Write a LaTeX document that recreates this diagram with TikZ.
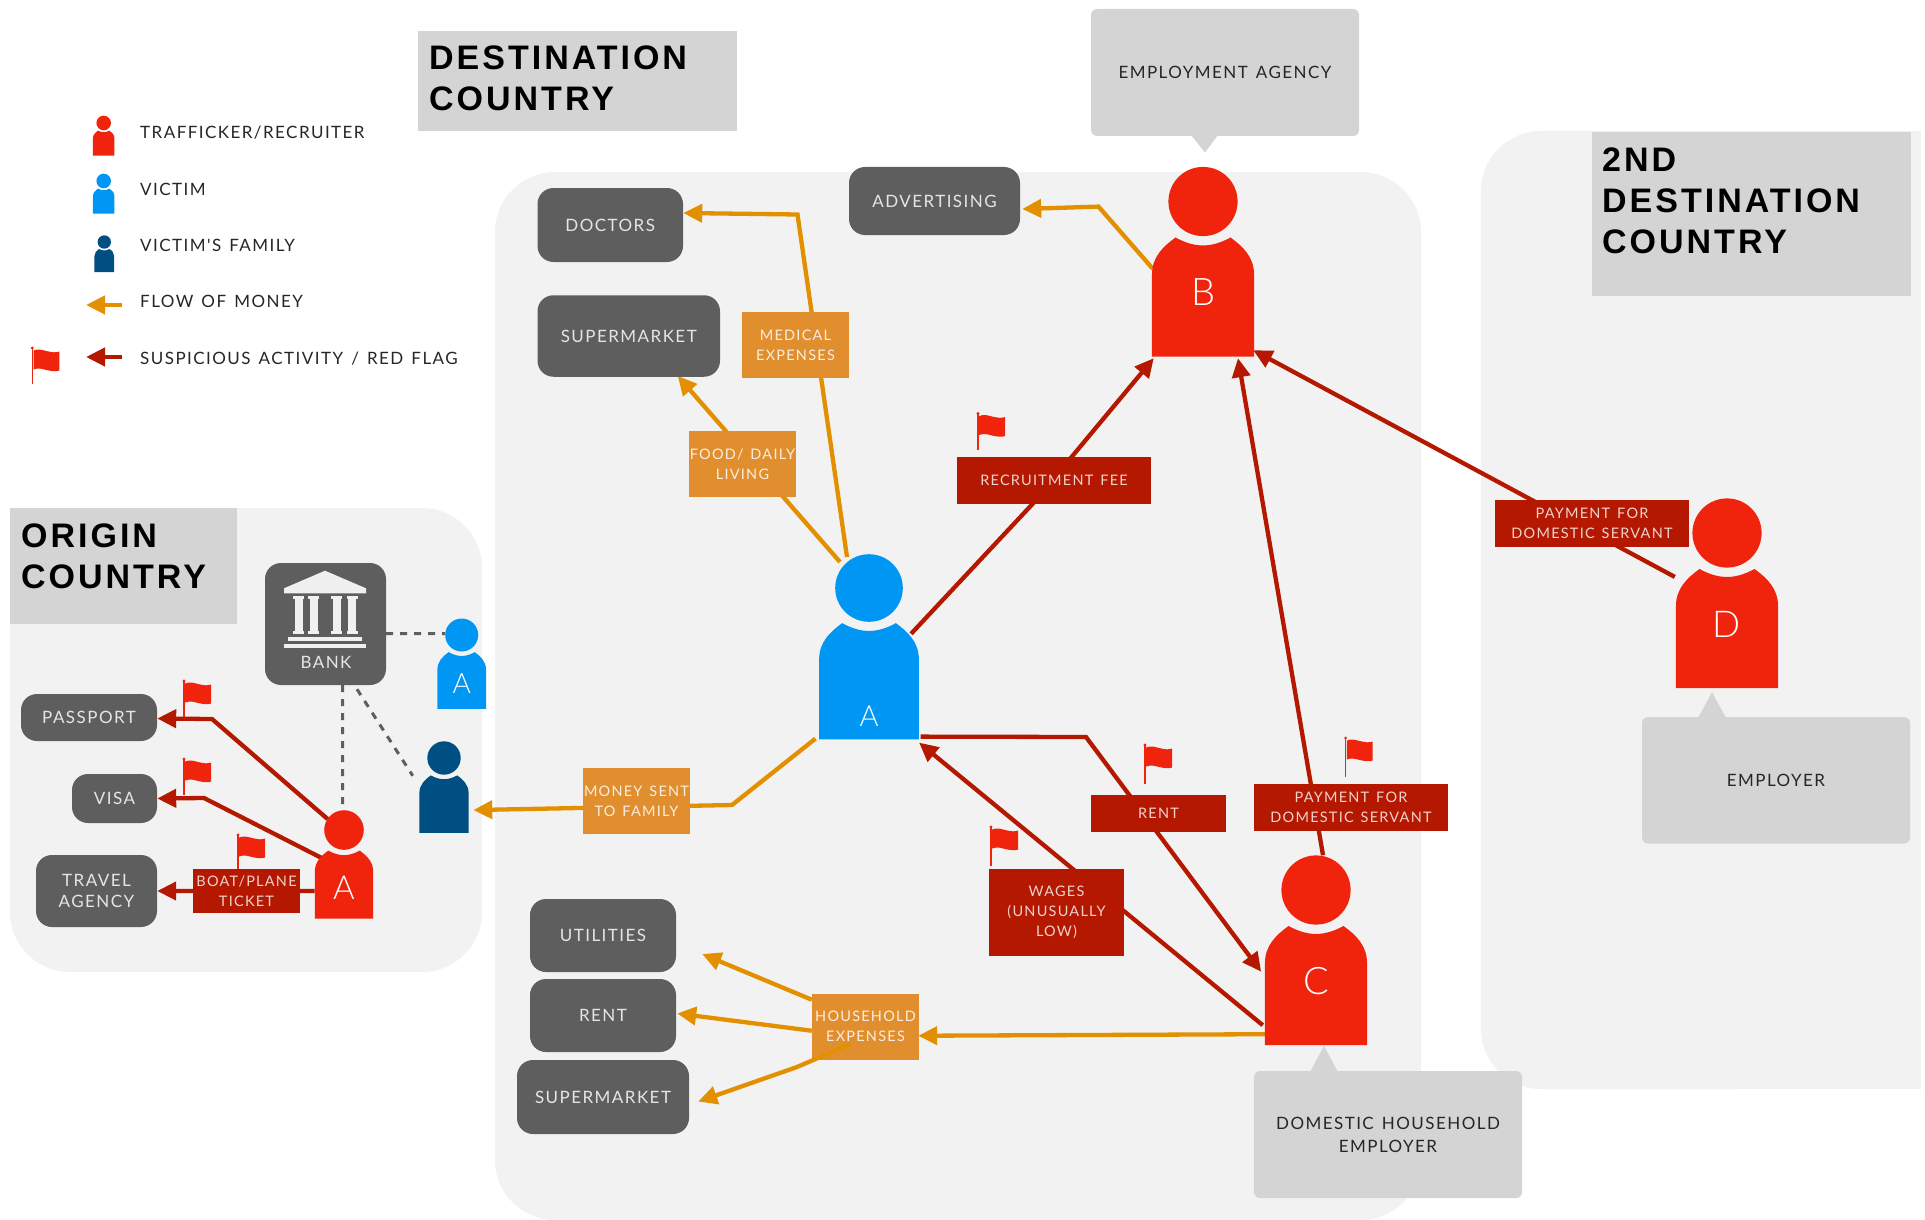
\documentclass[tikz,border=0pt]{standalone}
\usepackage{fontspec}
\usetikzlibrary{arrows.meta}
\setmainfont{Lato Light}
\newfontfamily\boxfont[LetterSpace=8.5,WordSpace=1.4]{Lato}
\newfontfamily\titlefont[LetterSpace=8.8]{Liberation Sans}
\definecolor{panelgrey}{HTML}{F2F2F2}
\definecolor{titlegrey}{HTML}{D4D4D4}
\definecolor{boxgrey}{HTML}{5E5E5E}
\definecolor{traffred}{HTML}{F0230C}
\definecolor{victimblue}{HTML}{0096F3}
\definecolor{familynavy}{HTML}{004F82}
\definecolor{moneyorange}{HTML}{E29000}
\definecolor{labelorange}{HTML}{E08E2E}
\definecolor{flagred}{HTML}{B41800}
\pgfdeclarelayer{panels}
\pgfdeclarelayer{lines}
\pgfsetlayers{panels,lines,main}
\tikzset{
    personbox/.style={inner sep=0pt},
    personletter/.style={text=white, inner sep=0pt, font=\fontsize{#1}{#1}\selectfont},
    darkbox/.style={fill=boxgrey, rounded corners=16pt, inner sep=0pt, align=center, text=white!90!black,
        font=\boxfont\fontsize{17}{21.5}\selectfont},
    callout/.style={fill=titlegrey, rounded corners=6pt, inner sep=0pt, align=center, text=black!85,
        font=\boxfont\fontsize{17}{23}\selectfont},
    redlabel/.style={fill=flagred, inner sep=0pt, align=center, text=white!80!flagred,
        font=\boxfont\fontsize{14.5}{20}\selectfont},
    orangelabel/.style={fill=labelorange, inner sep=0pt, align=center, text=white!85!labelorange,
        font=\boxfont\fontsize{14.5}{20}\selectfont},
    legendtext/.style={anchor=base west, inner sep=0pt, text=black!85, font=\boxfont\fontsize{17}{20}\selectfont},
    titletext/.style={anchor=north west, inner sep=0pt, align=left, text=black,
        font=\titlefont\bfseries\fontsize{34}{41}\selectfont},
    moneyline/.style={draw=moneyorange, line width=4.3pt, -{Triangle[length=19pt,width=18pt]}},
    flagline/.style={draw=flagred, line width=4.3pt, -{Triangle[length=19pt,width=18pt]}},
    bankline/.style={draw=boxgrey, line width=3pt, dash pattern=on 7pt off 7pt}
}
\newcommand{\person}[5]{
        \begin{scope}[shift={(#2,#3)}, x=#4pt, y=-#4pt]
            \fill[#5] (0,0) circle (1);
            \fill[#5] (-1.475,4.48) -- (-1.475,2.11) .. controls (-1.475,1.6) and (-1.15,1.3) .. (-0.795,1.04)
                .. controls (-0.5,1.2) and (-0.25,1.27) .. (0,1.27) .. controls (0.25,1.27) and (0.5,1.2) .. (0.795,1.04)
                .. controls (1.15,1.3) and (1.475,1.6) .. (1.475,2.11) -- (1.475,4.48) -- cycle;
        \end{scope}
        \node[personbox, minimum width={2.95*#4pt}, minimum height={5.48*#4pt}] (#1) at ({#2},{#3+1.74*#4}) {};
}
\newcommand{\redflag}[3]{
        \begin{scope}[shift={(#1,#2)}]
            \draw[traffred, line width=1.3pt] (0,0) -- (0,#3);
            \fill[traffred] (0,0) circle (1.6);
            \fill[traffred] (1.2,2.5) .. controls (6,0.5) and (10,2) .. (14,3) .. controls (19,4.2) and (24,5) .. (27,3.5)
                -- (27,22.5) .. controls (24,24) and (19,23) .. (14,22) .. controls (10,21) and (6,19.5) .. (1.2,21.5) -- cycle;
        \end{scope}
}
\begin{document}
\begin{tikzpicture}[x=1pt, y=-1pt]
        \useasboundingbox (0,0) rectangle (1925,1220);
        \begin{pgfonlayer}{panels}
            \fill[panelgrey, rounded corners=60pt] (495,172) rectangle (1421,1220);
            \fill[panelgrey, rounded corners=60pt] (10,508) rectangle (482,972);
            \fill[panelgrey, rounded corners=60pt] (1481,131) rectangle (1800,1089);
            \fill[panelgrey] (1700,131) rectangle (1921,1089);
        \end{pgfonlayer}
        \fill[titlegrey] (418,31) rectangle (737,131.5);
        \fill[titlegrey] (10,508) rectangle (237,624);
        \fill[titlegrey] (1592,132) rectangle (1911,296);
        \node[titletext] (destTitle) at (429,46) {DESTINATION\\COUNTRY};
        \node[titletext] (originTitle) at (21,524) {ORIGIN\\COUNTRY};
        \node[titletext] (secondTitle) at (1602,147.5) {2ND\\DESTINATION\\COUNTRY};
        % legend
        \person{legendRed}{103.7}{123}{7.3}{traffred}
        \person{legendBlue}{103.7}{181}{7.3}{victimblue}
        \person{legendNavy}{104.3}{242}{6.7}{familynavy}
        \node[legendtext] (legendA) at (140,139) {TRAFFICKER/RECRUITER};
        \node[legendtext] (legendB) at (140,195) {VICTIM};
        \node[legendtext] (legendC) at (140,251) {VICTIM'S FAMILY};
        \node[legendtext] (legendD) at (140,307) {FLOW OF MONEY};
        \node[legendtext] (legendE) at (140,364) {SUSPICIOUS ACTIVITY / RED FLAG};
        \coordinate (flowTail) at (122,305);
        \coordinate (flowTip) at (86,305);
        \coordinate (flagTail) at (122,357);
        \coordinate (flagTip) at (86,357);
        \draw[moneyline] (flowTail) -- (flowTip);
        \draw[flagline] (flagTail) -- (flagTip);
        \redflag{32.3}{348}{36}
        % people
        \person{victim}{869}{588}{33.8}{victimblue}
        \person{traffB}{1203}{201.5}{34.6}{traffred}
        \person{traffC}{1316}{890}{34.6}{traffred}
        \person{traffD}{1727}{533}{34.6}{traffred}
        \person{recruiter}{344}{830}{19.8}{traffred}
        \person{victimHome}{461.7}{635}{16.5}{victimblue}
        \person{family}{444}{758}{16.7}{familynavy}
        \node[personletter=29] (victimL) at (869,716) {A};
        \node[personletter=38] (traffBL) at (1203,292) {B};
        \node[personletter=38] (traffCL) at (1316,981) {C};
        \node[personletter=37] (traffDL) at (1727,624) {D};
        \node[personletter=33] (recruiterL) at (344,888) {A};
        \node[personletter=28] (victimHomeL) at (461.7,684) {A};
        % grey boxes
        \node[darkbox, minimum width=145.5pt, minimum height=74pt] (doctors) at (610.25,225) {DOCTORS};
        \node[darkbox, minimum width=182.5pt, minimum height=81.5pt] (superTop) at (628.75,336) {SUPERMARKET};
        \node[darkbox, minimum width=171pt, minimum height=68pt] (advertising) at (934.5,201) {ADVERTISING};
        \node[darkbox, minimum width=146pt, minimum height=73pt] (utilities) at (603,935.5) {UTILITIES};
        \node[darkbox, minimum width=146pt, minimum height=73pt] (rentBox) at (603,1015.5) {RENT};
        \node[darkbox, minimum width=172pt, minimum height=74pt] (superBot) at (603,1097) {SUPERMARKET};
        \node[darkbox, minimum width=136pt, minimum height=47pt] (passport) at (89,717.5) {PASSPORT};
        \node[darkbox, minimum width=85pt, minimum height=49pt] (visa) at (114.5,798.5) {VISA};
        \node[darkbox, minimum width=121pt, minimum height=72pt] (travel) at (96.5,891) {TRAVEL\\AGENCY};
        \node[darkbox, minimum width=121pt, minimum height=122pt] (bank) at (325.5,624) {};
        \fill[white!94!black] (325,570.7) -- (366,588.3) -- (366,593.3) -- (284,593.3) -- (284,588.3) -- cycle;
        \foreach \col in {298.7,313.8,336.7,352} {
            \fill[white!94!black] ({\col-5.5},596) rectangle ({\col+5.5},598.5);
            \fill[white!94!black] ({\col-4},598.5) rectangle ({\col+4},631);
            \fill[white!94!black] ({\col-5.5},631) rectangle ({\col+5.5},633.5);
        }
        \fill[white!94!black] (288.3,636.7) rectangle (362,641.3);
        \fill[white!94!black] (284,644) rectangle (366,648.3);
        \node[inner sep=0pt, text=white!90!black, font=\boxfont\fontsize{17}{20}\selectfont] (bankLabel) at (326,662) {BANK};
        % callouts
        \node[callout, minimum width=268pt, minimum height=127pt] (agency) at (1225,72.5) {EMPLOYMENT AGENCY};
        \fill[titlegrey] (1191,135) -- (1218,135) -- (1205,152.5) -- cycle;
        \node[callout, minimum width=268pt, minimum height=126.5pt] (employer) at (1776,780.25) {EMPLOYER};
        \fill[titlegrey] (1698,718) -- (1726,718) -- (1712,692) -- cycle;
        \node[callout, minimum width=268pt, minimum height=127pt] (household) at (1388,1134.5) {DOMESTIC HOUSEHOLD\\EMPLOYER};
        \fill[titlegrey] (1310,1072) -- (1338,1072) -- (1324,1046) -- cycle;
        % labels on the lines
        \node[orangelabel, minimum width=107pt, minimum height=66pt] (medical) at (795.5,345) {MEDICAL\\EXPENSES};
        \node[orangelabel, minimum width=107pt, minimum height=66pt] (food) at (742.5,464) {FOOD/ DAILY\\LIVING};
        \node[orangelabel, minimum width=107pt, minimum height=66pt] (moneySent) at (636.5,801) {MONEY SENT\\TO FAMILY};
        \node[orangelabel, minimum width=107pt, minimum height=65.5pt] (expenses) at (865.5,1026.75) {HOUSEHOLD\\EXPENSES};
        \node[redlabel, minimum width=194pt, minimum height=47pt] (fee) at (1054,480.5) {RECRUITMENT FEE};
        \node[redlabel, minimum width=135pt, minimum height=37pt] (rentLabel) at (1158.5,813.5) {RENT};
        \node[redlabel, minimum width=194pt, minimum height=47pt] (paymentC) at (1351,807.5) {PAYMENT FOR\\DOMESTIC SERVANT};
        \node[redlabel, minimum width=135pt, minimum height=87pt] (wages) at (1056.5,912.5) {WAGES\\(UNUSUALLY\\LOW)};
        \node[redlabel, minimum width=194pt, minimum height=47pt] (paymentD) at (1592,523.5) {PAYMENT FOR\\DOMESTIC SERVANT};
        \node[redlabel, minimum width=107pt, minimum height=44pt] (ticket) at (246.5,891) {BOAT/PLANE\\TICKET};
        % flags
        \redflag{184}{681}{36}
        \redflag{184}{759}{36}
        \redflag{238}{835}{34}
        \redflag{978}{413.5}{36}
        \redflag{1145}{745}{39}
        \redflag{1345.6}{738}{39}
        \redflag{991}{827}{39}
        % connectors
        \coordinate (medicalBend) at (797.5,214.5);
        \coordinate (advertBend) at (1098.5,206.6);
        \coordinate (familyBend) at (732,805);
        \coordinate (superBend) at (797,1067);
        \coordinate (rentBend) at (1086,737);
        \coordinate (passportBend) at (212,719);
        \coordinate (visaBend) at (204,798);
        \coordinate (feeBend) at (1032.5,504);
        \begin{pgfonlayer}{lines}
            \draw[moneyline] ([shift={(-22pt,-3pt)}]victim.north) -- (medicalBend) -- ([yshift=12pt]doctors.east);
            \draw[moneyline] ([shift={(-29pt,-8pt)}]victim.north) -- ([shift={(49pt,1pt)}]superTop.south);
            \draw[moneyline] ([shift={(1pt,-7pt)}]traffB.west) -- (advertBend) -- ([shift={(2pt,-8pt)}]advertising.east);
            \draw[moneyline] ([shift={(-3.5pt,1pt)}]victim.south west) -- (familyBend) -- ([shift={(4.5pt,-23pt)}]family.east);
            \draw[moneyline] ([yshift=11pt]traffC.south west) -- ([shift={(-1pt,-9pt)}]expenses.east);
            \draw[moneyline] ([yshift=27pt]expenses.west) -- ([shift={(26pt,-18.5pt)}]utilities.east);
            \draw[moneyline] ([yshift=-4pt]expenses.west) -- ([shift={(1pt,2pt)}]rentBox.east);
            \draw[flagline] ([shift={(-8pt,13pt)}]victim.east) -- (feeBend) -- ([shift={(2pt,-1.5pt)}]traffB.south west);
            \draw[flagline] ([shift={(1.5pt,3pt)}]victim.south east) -- (rentBend) -- ([shift={(-3.6pt,-21.5pt)}]traffC.west);
            \draw[flagline] ([shift={(-2pt,20pt)}]traffC.south west) -- ([yshift=-3pt]victim.south east);
            \draw[flagline] ([xshift=7pt]traffC.north) -- ([shift={(35pt,-1.5pt)}]traffB.south);
            \draw[flagline] ([shift={(-1pt,16.3pt)}]traffD.west) -- ([shift={(-1pt,6.5pt)}]traffB.south east);
            \draw[flagline] ([shift={(13pt,-9pt)}]recruiter.north west) -- (passportBend) -- ([yshift=-1pt]passport.east);
            \draw[flagline] ([shift={(7pt,6.5pt)}]recruiter.west) -- (visaBend) -- (visa.east);
            \draw[flagline] ([yshift=-26.5pt]recruiter.west) -- (travel.east);
            \draw[bankline] ([yshift=-9.7pt]bank.east) -- ([shift={(7.6pt,30pt)}]victimHome.west);
            \draw[bankline] ([xshift=17pt]bank.south) -- ([xshift=-1.3pt]recruiter.north);
            \draw[bankline] ([shift={(31.5pt,-4pt)}]bank.south) -- ([shift={(-6.4pt,-34.7pt)}]family.north west);
        \end{pgfonlayer}
        \draw[moneyline] ([shift={(-14.5pt,-17pt)}]expenses.center) -- (superBend) -- ([shift={(9pt,-4.6pt)}]superBot.east);
\end{tikzpicture}
\end{document}
